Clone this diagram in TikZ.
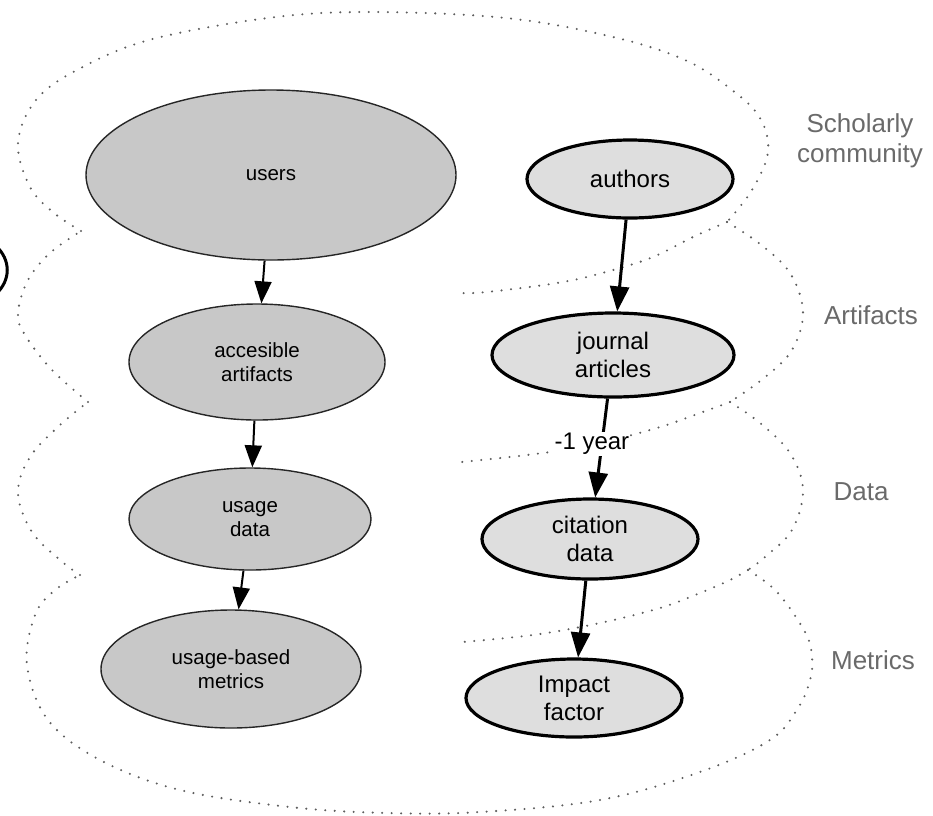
\documentclass[tikz,border=0pt]{standalone}
\usepackage{fontspec}
\setmainfont{Liberation Sans}
\usetikzlibrary{shapes.geometric,arrows.meta}
\definecolor{usagefill}{HTML}{C8C8C8}
\definecolor{citefill}{HTML}{DEDEDE}
\definecolor{dotgray}{HTML}{5E5E5E}
\definecolor{labelgray}{HTML}{6A6A6A}

\begin{document}
\begin{tikzpicture}[x=1pt,y=-1pt,
  usagenode/.style={ellipse, draw=black!85, line width=1.4pt, fill=usagefill,
    inner sep=0pt, align=center, font=\fontsize{20.5}{24}\selectfont},
  citenode/.style={ellipse, draw=black, line width=3.2pt, fill=citefill,
    inner sep=0pt, align=center, font=\fontsize{24}{28}\selectfont},
  usagearrow/.style={line width=2pt, -{Triangle[length=22pt,width=17pt]}},
  citearrow/.style={line width=3pt, -{Triangle[length=25pt,width=19pt]}},
  layerline/.style={draw=dotgray, line width=2.3pt, line cap=round,
    dash pattern=on 0pt off 9.5pt},
  layerlabel/.style={text=labelgray, align=center,
    font=\fontsize{26}{30}\selectfont},
  lagtext/.style={fill=white, inner sep=1pt, font=\fontsize{24}{28}\selectfont},
]
\useasboundingbox (0,0) rectangle (933,815);

% scalloped outline of the four layers
\draw[layerline] plot[smooth, tension=0.6] coordinates {
  (81,231) (54,213) (30,187) (18,143) (36,100) (77,70) (149,40) (268,18)
  (369,12) (506,18) (613,37) (685,60) (732,90) (760,118) (768,152) (752,190) (727,222)};
\draw[layerline] plot[smooth, tension=0.6] coordinates {
  (727,222) (760,244) (790,273) (803,312) (792,350) (764,378) (730,402)};
\draw[layerline] plot[smooth, tension=0.6] coordinates {
  (730,402) (760,423) (790,453) (803,490) (792,530) (765,557) (748,570)};
\draw[layerline] plot[smooth, tension=0.6] coordinates {
  (748,570) (777,592) (805,632) (812,657) (810,680) (798,708) (770,740)
  (700,772) (600,800) (480,812) (387,813) (290,807) (180,790) (100,760)
  (48,720) (27,665) (35,615) (55,590) (80,575)};
\draw[layerline] plot[smooth, tension=0.6] coordinates {
  (80,575) (60,560) (32,532) (18,493) (30,457) (60,425) (88,402)};
\draw[layerline] plot[smooth, tension=0.6] coordinates {
  (88,402) (52,370) (25,335) (18,313) (28,280) (50,253) (81,231)};

% inner borders between layers
\draw[layerline] plot[smooth, tension=0.6] coordinates {
  (727,222) (693,237) (653,257) (613,270) (563,282) (487,292) (458,293)};
\draw[layerline] plot[smooth, tension=0.6] coordinates {
  (730,402) (700,413) (660,427) (600,443) (543,453) (462,462)};
\draw[layerline] plot[smooth, tension=0.6] coordinates {
  (748,570) (730,580) (700,593) (660,608) (600,623) (533,635) (462,642)};

% closing parenthesis at the left edge
\draw[line width=3pt] (-4,246) .. controls (11,260) and (11,280) .. (-4,294);

% usage-based chain
\node[usagenode, minimum width=370pt, minimum height=170pt] (users) at (271,175) {users};
\node[usagenode, minimum width=256pt, minimum height=116pt] (access) at (257,362) {accesible\\artifacts};
\node[usagenode, minimum width=242pt, minimum height=102pt] (usage) at (250,519) {usage\\data};
\node[usagenode, minimum width=260pt, minimum height=118pt] (ubm) at (231,669) {usage-based\\metrics};

% citation-based chain
\node[citenode, minimum width=206pt, minimum height=78pt] (authors) at (630,179) {authors};
\node[citenode, minimum width=242pt, minimum height=84pt] (journal) at (613,355) {journal\\articles};
\node[citenode, minimum width=216pt, minimum height=80pt] (citation) at (590,539) {citation\\data};
\node[citenode, minimum width=216pt, minimum height=78pt] (impact) at (574,698) {Impact\\factor};

\draw[usagearrow] (users) -- (access);
\draw[usagearrow] (access) -- (usage);
\draw[usagearrow] (usage) -- (ubm);

\draw[citearrow] (authors) -- (journal);
\draw[citearrow] (journal) -- node[lagtext, pos=0.46, xshift=-10pt] (lag) {-1 year} (citation);
\draw[citearrow] (citation) -- (impact);

% layer names
\node[layerlabel] (lscholar) at (860,141) {Scholarly\\community};
\node[layerlabel] (lartifacts) at (871,315) {Artifacts};
\node[layerlabel] (ldata) at (861,492) {Data};
\node[layerlabel] (lmetrics) at (873,660) {Metrics};
\end{tikzpicture}
\end{document}
